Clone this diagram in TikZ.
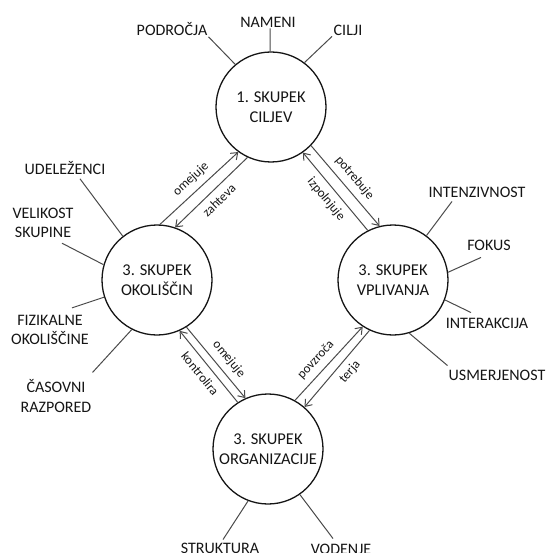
\documentclass[tikz,border=0pt]{standalone}
\usepackage{fontspec}
\setmainfont{Carlito}
\usetikzlibrary{arrows.meta, positioning, calc}
\definecolor{Ink}{HTML}{151515}
\definecolor{Wire}{HTML}{4A4A4A}

\begin{document}
\begin{tikzpicture}[x=1pt, y=-1pt,
    >={Straight Barb[length=6pt, width=9pt]},
    skupek/.style={circle, draw=Ink, line width=1.3pt, minimum size=110pt,
                   inner sep=0pt, font=\fontsize{16.5}{20}\selectfont,
                   text=Ink, align=center},
    pojem/.style={font=\fontsize{16}{19.5}\selectfont, text=Ink,
                  align=center, inner sep=1pt},
    crta/.style={draw=Wire, line width=1pt},
    vez/.style={draw=Wire, line width=1pt},
    opis/.style={font=\fontsize{13}{15}\selectfont, text=Ink, sloped,
                 midway, inner sep=1pt}
]
    \useasboundingbox (0,0) rectangle (550,553);

    % The four groups
    \node[skupek] (ciljev) at (271,107) {1. SKUPEK\\CILJEV};
    \node[skupek] (okoliscin) at (157,280) {3. SKUPEK\\OKOLIŠČIN};
    \node[skupek] (vplivanja) at (393,280) {3. SKUPEK\\VPLIVANJA};
    \node[skupek] (organizacije) at (268,449) {3. SKUPEK\\ORGANIZACIJE};

    % Relations between the groups
    \draw[vez, ->] (okoliscin.87) -- (ciljev.234) node[opis, above=5pt] {omejuje};
    \draw[vez, <-] (okoliscin.71) -- (ciljev.245) node[opis, below=5pt] {zahteva};
    \draw[vez, ->] (ciljev.316) -- (vplivanja.104) node[opis, above=5pt] {potrebuje};
    \draw[vez, <-] (ciljev.305) -- (vplivanja.117) node[opis, below=5pt] {izpolnjuje};
    \draw[vez, ->] (okoliscin.302) -- (organizacije.114) node[opis, above=5pt, pos=0.56] {omejuje};
    \draw[vez, <-] (okoliscin.294) -- (organizacije.123) node[opis, below=5pt] {kontrolira};
    \draw[vez, ->] (organizacije.61) -- (vplivanja.237) node[opis, above=5pt, pos=0.44] {povzroča};
    \draw[vez, <-] (organizacije.49) -- (vplivanja.245) node[opis, below=5pt, pos=0.56] {terja};

    % Elements of the goals
    \node[pojem] (podrocja) at (172,29) {PODROČJA};
    \node[pojem] (nameni) at (268,22) {NAMENI};
    \node[pojem] (cilji) at (348,30) {CILJI};
    \draw[crta] (podrocja.south east) -- (ciljev.130);
    \draw[crta] ([xshift=2pt]nameni.south) -- (ciljev.91);
    \draw[crta] ([xshift=-16pt]cilji.south) -- (ciljev.53);

    % Elements of the circumstances
    \node[pojem] (udelezenci) at (65,168) {UDELEŽENCI};
    \node[pojem] (velikost) at (43,223) {VELIKOST\\SKUPINE};
    \node[pojem] (fizikalne) at (50,330) {FIZIKALNE\\OKOLIŠČINE};
    \node[pojem] (casovni) at (56,396) {ČASOVNI\\RAZPORED};
    \draw[crta] ([xshift=15pt, yshift=-3pt]udelezenci.south) -- (okoliscin.128);
    \draw[crta] ([xshift=19pt, yshift=-4pt]velikost.south) -- (okoliscin.164);
    \draw[crta] ([xshift=22pt, yshift=6pt]fizikalne.north) -- (okoliscin.198);
    \draw[crta] ([yshift=6pt]casovni.north east) -- (okoliscin.243);

    % Elements of the influence
    \node[pojem] (intenzivnost) at (477,192) {INTENZIVNOST};
    \node[pojem] (fokus) at (489,245) {FOKUS};
    \node[pojem] (interakcija) at (487,323) {INTERAKCIJA};
    \node[pojem] (usmerjenost) at (497,375) {USMERJENOST};
    \draw[crta] ([xshift=-25pt, yshift=-3pt]intenzivnost.south) -- (vplivanja.53);
    \draw[crta] ([xshift=-8pt, yshift=-6pt]fokus.south) -- (vplivanja.8);
    \draw[crta] ([xshift=-16pt, yshift=4pt]interakcija.north) -- (vplivanja.-21);
    \draw[crta] ([yshift=3pt]usmerjenost.north west) -- (vplivanja.-73);

    % Elements of the organisation
    \node[pojem] (struktura) at (220,548) {STRUKTURA};
    \node[pojem] (vodenje) at (341,549) {VODENJE};
    \draw[crta] ([xshift=3pt, yshift=2pt]struktura.north) -- (organizacije.249);
    \draw[crta] ([xshift=-8pt, yshift=4pt]vodenje.north) -- (organizacije.305);
\end{tikzpicture}
\end{document}
